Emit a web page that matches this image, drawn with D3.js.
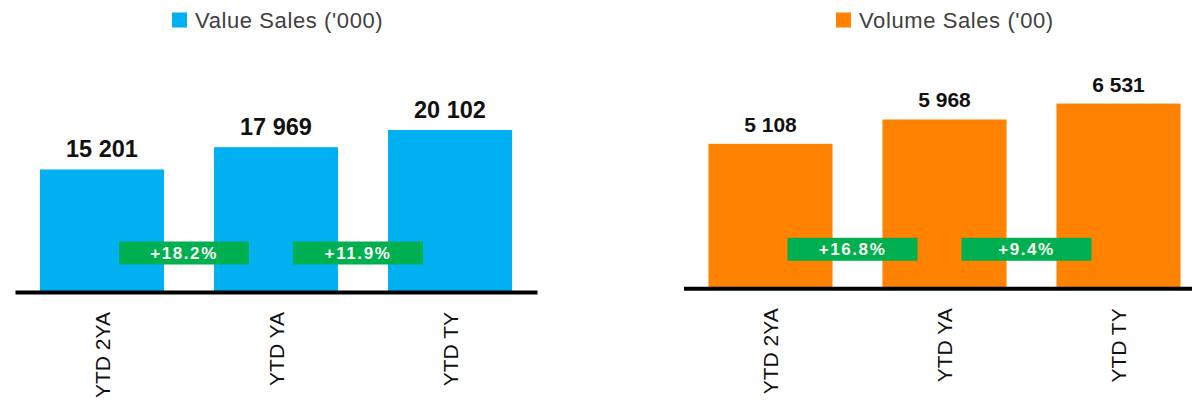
<!DOCTYPE html>
<html>
<head>
<meta charset="utf-8">
<script src="https://cdn.jsdelivr.net/npm/d3@7"></script>
<style>
  html, body { margin: 0; padding: 0; background: #fff; }
  svg { display: block; }
  text { font-family: 'Liberation Sans', Arial, sans-serif; }
</style>
</head>
<body>
<div id="chart"></div>
<script>
// Data
var categories = ['YTD 2YA', 'YTD YA', 'YTD TY'];
var valueSales = [15201, 17969, 20102];
var volumeSales = [5108, 5968, 6531];
var valueGrowth = [18.2, 11.9];   // % change vs previous period
var volumeGrowth = [16.8, 9.4];
var valueMax = 25000;
var volumeMax = 7000;

(function() {
  var W = 1192, H = 402;

  var svg = d3.select('#chart')
    .append('svg')
    .attr('width', W)
    .attr('height', H);

  // numbers use a space as thousands separator
  var locale = d3.formatLocale({ decimal: '.', thousands: ' ', grouping: [3], currency: ['', ''] });
  var fmt = locale.format(',');

  var panels = [
    {
      title: "Value Sales ('000)", values: valueSales, growth: valueGrowth, max: valueMax,
      color: '#00B0F0', x0: 15, x1: 537, base: 292, top: 90.5,
      legendX: 172, labelSize: 23.5
    },
    {
      title: "Volume Sales ('00)", values: volumeSales, growth: volumeGrowth, max: volumeMax,
      color: '#FF8200', x0: 683.5, x1: 1205.5, base: 288.3, top: 90.3,
      legendX: 836, labelSize: 21
    }
  ];

  panels.forEach(function(p) {
    var g = svg.append('g');

    var x = d3.scaleBand()
      .domain(categories)
      .range([p.x0, p.x1])
      .paddingInner(0.287)
      .paddingOuter(0.1435);

    var y = d3.scaleLinear()
      .domain([0, p.max])
      .range([p.base, p.top]);

    // Legend
    g.append('rect')
      .attr('x', p.legendX).attr('y', 12.5)
      .attr('width', 15).attr('height', 15)
      .attr('fill', p.color);
    g.append('text')
      .attr('x', p.legendX + 23).attr('y', 20)
      .attr('dy', '0.36em')
      .attr('fill', '#404040')
      .style('font-size', '22px')
      .style('letter-spacing', '0.6px')
      .text(p.title);

    // Bars
    g.selectAll('.bar')
      .data(p.values)
      .enter().append('rect')
      .attr('class', 'bar')
      .attr('x', function(d, i) { return x(categories[i]); })
      .attr('y', function(d) { return y(d); })
      .attr('width', x.bandwidth())
      .attr('height', function(d) { return y(0) - y(d); })
      .attr('fill', p.color);

    // Value labels
    g.selectAll('.val')
      .data(p.values)
      .enter().append('text')
      .attr('class', 'val')
      .attr('x', function(d, i) { return x(categories[i]) + x.bandwidth() / 2; })
      .attr('y', function(d) { return y(d) - 12; })
      .attr('text-anchor', 'middle')
      .attr('fill', '#111')
      .style('font-size', p.labelSize + 'px')
      .style('font-weight', 'bold')
      .text(function(d) { return fmt(d); });

    // Growth badges between bars
    var gap = x.step() * x.paddingInner();
    var badges = g.selectAll('.badge')
      .data(p.growth)
      .enter().append('g')
      .attr('class', 'badge')
      .attr('transform', function(d, i) {
        var cx = x(categories[i + 1]) - gap / 2 - 5;
        return 'translate(' + cx + ',' + (p.base - 39) + ')';
      });
    badges.append('rect')
      .attr('x', -65).attr('y', -11.5)
      .attr('width', 130).attr('height', 23)
      .attr('fill', '#00B050');
    badges.append('text')
      .attr('text-anchor', 'middle')
      .attr('dy', '0.36em')
      .attr('fill', '#fafaf0')
      .style('font-size', '17px')
      .style('font-weight', 'bold')
      .style('letter-spacing', '1.6px')
      .text(function(d) { return '+' + d.toFixed(1) + '%'; });

    // Category axis
    var axis = g.append('g')
      .attr('transform', 'translate(0,' + p.base + ')')
      .call(d3.axisBottom(x).tickSize(0).tickSizeOuter(0));
    axis.select('.domain')
      .attr('stroke', '#000')
      .attr('stroke-width', 4);
    axis.selectAll('.tick text')
      .attr('transform', 'rotate(-90)')
      .attr('x', -20)
      .attr('y', 0)
      .attr('dy', '0.36em')
      .attr('fill', '#111')
      .style('text-anchor', 'end')
      .style('font-size', '21px')
      .style('font-family', "'Liberation Sans', Arial, sans-serif");
  });
})();
</script>
</body>
</html>
